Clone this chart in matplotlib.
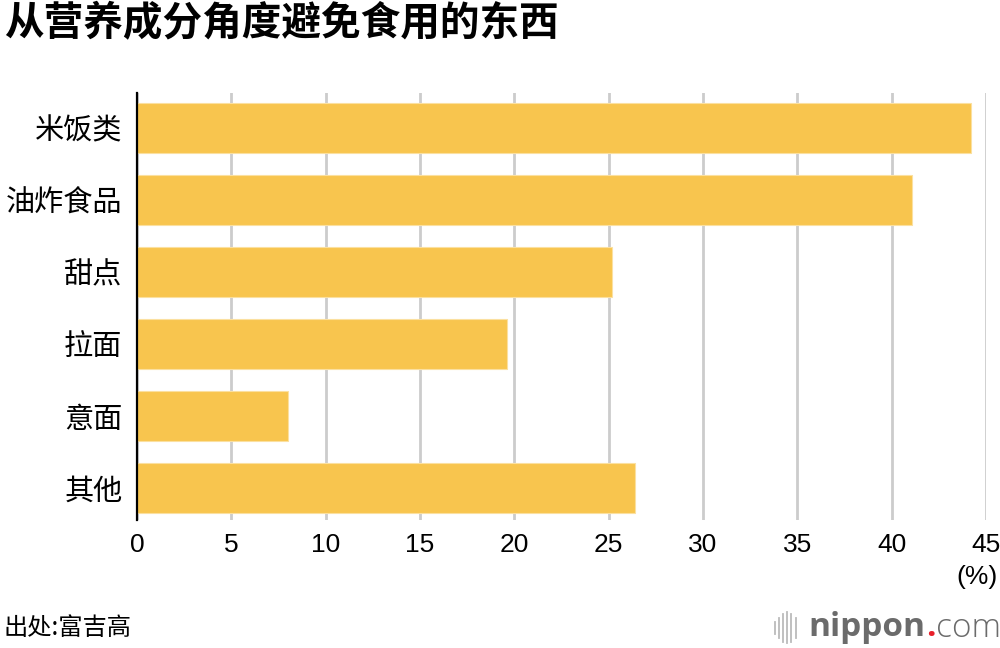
import matplotlib
matplotlib.use("Agg")
import matplotlib.pyplot as plt
from matplotlib.lines import Line2D

plt.rcParams['font.family'] = ['Noto Sans CJK SC', 'DejaVu Sans']

# Data
categories = ['米饭类', '油炸食品', '甜点', '拉面', '意面', '其他']
values = [44.2, 41.1, 25.2, 19.6, 8.0, 26.4]
x_ticks = [0, 5, 10, 15, 20, 25, 30, 35, 40, 45]

title = '从营养成分角度避免食用的东西'
source = '出处:富吉高'

bar_color = '#F8C54E'
grid_color = '#cccccc'

fig = plt.figure(figsize=(10, 6.48), dpi=100)
ax = fig.add_axes([0.137, 0.1975, 0.849, 0.659])

positions = list(range(len(categories)))
ax.barh(positions, values, height=0.69, color=bar_color,
        edgecolor='#fbe0a0', linewidth=0.8, zorder=3)

ax.set_xlim(0, 45)
ax.set_ylim(5.444, -0.486)
ax.set_xticks(x_ticks)
ax.set_xticklabels([str(t) for t in x_ticks], family='Liberation Sans', fontsize=19)
ax.set_yticks(positions)
ax.set_yticklabels(categories, fontsize=21, fontweight='medium')
ax.tick_params(axis='both', length=0)
ax.tick_params(axis='x', pad=9)
ax.tick_params(axis='y', pad=10.5)

ax.grid(axis='x', color=grid_color, linewidth=2, zorder=0)
ax.grid(axis='y', visible=False)
for side in ['top', 'right', 'bottom']:
    ax.spines[side].set_visible(False)
ax.spines['left'].set_color('black')
ax.spines['left'].set_linewidth(1.6)
ax.spines['left'].set_zorder(4)

# unit label under the last tick
ax.text(1.0135, -0.105, '(%)', transform=ax.transAxes, ha='right', va='top',
        fontsize=19, family='Liberation Sans')

# title and source
fig.text(0.004, 0.963, title, fontsize=28.5, fontweight='bold', ha='left', va='center')
fig.text(0.003, 0.031, source, fontsize=17.5, ha='left', va='center')

# nippon.com logo
heights = [0.018, 0.03, 0.042, 0.048, 0.042, 0.03]
for i, h in enumerate(heights):
    x = 0.7745 + i * 0.0042
    fig.add_artist(Line2D([x, x], [0.031 - h / 2, 0.031 + h / 2], color='#bbbbbb',
                          linewidth=1.3, transform=fig.transFigure))
fig.canvas.draw()
renderer = fig.canvas.get_renderer()
inv = fig.transFigure.inverted()
x0 = 0.808
pieces = [('nippon', 'bold', '#6b6b6b'), ('.', 'bold', '#e8202a'), ('com', 'light', '#6b6b6b')]
for txt, weight, col in pieces:
    t = fig.text(x0, 0.031, txt, fontsize=24, fontweight=weight, color=col,
                 ha='left', va='center', family='Open Sans')
    bb = t.get_window_extent(renderer)
    x0 = inv.transform((bb.x1, bb.y0))[0] + 0.001

fig.savefig('out.png', dpi=100)
